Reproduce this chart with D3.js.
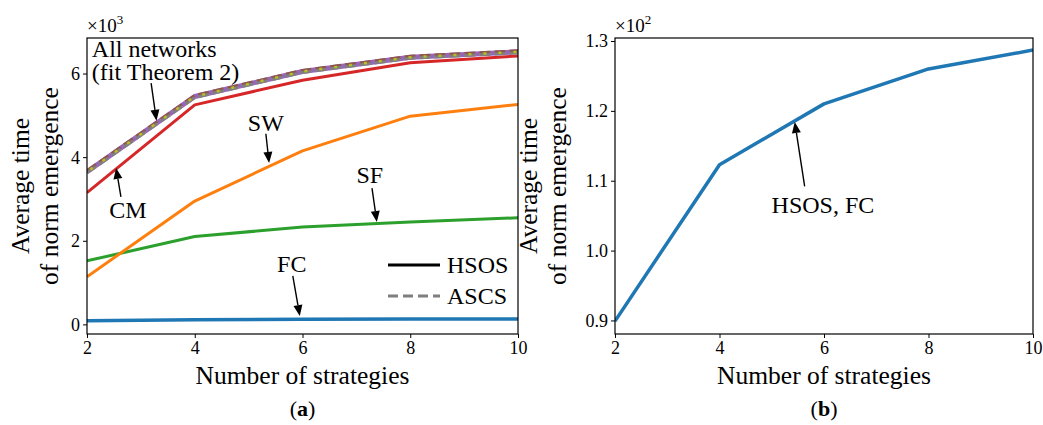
<!DOCTYPE html>
<html>
<head>
<meta charset="utf-8">
<script src="https://cdn.jsdelivr.net/npm/d3@7"></script>
<style>
  body { margin: 0; background: #fff; }
  svg text { font-family: "Liberation Serif", "Times New Roman", serif; fill: #000; }
</style>
</head>
<body>
<div id="main"></div>
<script>
// strategies on the x axis
const strategies = [2, 4, 6, 8, 10]

// panel (a), HSOS per network
const hsosCM = [3150, 5250, 5840, 6260, 6420]
const hsosSW = [1140, 2950, 4150, 4980, 5260]
const hsosSF = [1520, 2100, 2330, 2450, 2550]
const hsosFC = [89.9, 112.3, 121.0, 126.0, 128.7]
// panel (a), ASCS curves of all networks (they overlap on the fit)
const ascsFit = [3650, 5450, 6050, 6390, 6520]

// panel (b), HSOS on FC
const hsosFCb = [89.9, 112.3, 121.0, 126.0, 128.7]

const xTicks = [2, 4, 6, 8, 10]
const yTicksA = [0, 2000, 4000, 6000]
const yTicksB = [90, 100, 110, 120, 130]

// annotations: text pos, arrow tail, arrow tip (data coords)
const annotsA = [
  {lines: ["All networks", "(fit Theorem 2)"], x: 2.09, y: 6390, anchor: "start", tail: [3.19, 5770], tip: [3.29, 4870]},
  {lines: ["SW"], x: 5.32, y: 4630, anchor: "middle", tail: [5.32, 4560], tip: [5.38, 3860]},
  {lines: ["CM"], x: 2.76, y: 2540, anchor: "middle", tail: [2.63, 3050], tip: [2.54, 3740]},
  {lines: ["SF"], x: 7.25, y: 3380, anchor: "middle", tail: [7.29, 3260], tip: [7.38, 2450]},
  {lines: ["FC"], x: 5.80, y: 1250, anchor: "middle", tail: [5.82, 1160], tip: [5.95, 200]}
]
const annotsB = [
  {lines: ["HSOS, FC"], x: 5.98, y: 105.4, anchor: "middle", tail: [5.63, 109.2], tip: [5.44, 118.4]}
]

const width = 1043, height = 425

let svg = d3.select("#main").append("svg")
            .attr("width", width)
            .attr("height", height)

function arrow(g, x1, y1, x2, y2) {
  let dx = x2 - x1, dy = y2 - y1
  let len = Math.sqrt(dx*dx + dy*dy)
  let ux = dx/len, uy = dy/len
  let hl = 11, hw = 4.5
  let bx = x2 - ux*hl, by = y2 - uy*hl
  g.append("line")
   .attr("x1", x1).attr("y1", y1).attr("x2", bx).attr("y2", by)
   .attr("stroke", "#000").attr("stroke-width", 1.4)
  g.append("path")
   .attr("d", `M${x2},${y2}L${bx - uy*hw},${by + ux*hw}L${bx + uy*hw},${by - ux*hw}Z`)
   .attr("fill", "#000")
}

function panel(opts) {
  let g = svg.append("g")
  let x = d3.scaleLinear().domain([2, 10]).range([opts.left, opts.right])
  let y = d3.scaleLinear().domain(opts.yDomain).range([334, 38])

  let xAxis = d3.axisBottom(x).tickValues(xTicks).tickSize(4).tickPadding(3)
  let yAxis = d3.axisLeft(y).tickValues(opts.yTicks).tickSize(4).tickPadding(3).tickFormat(opts.fmt)

  g.append("g").attr("transform", "translate(0,334)").call(xAxis)
   .call(a => a.select(".domain").remove())
   .selectAll("text").style("font-size", "18px").attr("dy", "0.72em")
  g.append("g").attr("transform", `translate(${opts.left},0)`).call(yAxis)
   .call(a => a.select(".domain").remove())
   .selectAll("text").style("font-size", "18px").attr("dy", "0.33em")
  g.selectAll(".tick line").attr("stroke", "#000").attr("stroke-width", 1)

  // clip area
  let clipId = "clip" + opts.left
  svg.append("clipPath").attr("id", clipId).append("rect")
     .attr("x", opts.left).attr("y", 38).attr("width", opts.right - opts.left).attr("height", 296)
  let plot = g.append("g").attr("clip-path", `url(#${clipId})`)

  let line = d3.line().x((d, i) => x(strategies[i])).y(d => y(d))
  opts.series.forEach(s => {
    plot.append("path")
        .attr("d", line(s.values))
        .attr("fill", "none")
        .attr("stroke", s.color)
        .attr("stroke-width", s.w)
        .attr("stroke-dasharray", s.dash || null)
        .attr("stroke-dashoffset", s.off || 0)
        .attr("transform", s.dy ? `translate(0,${s.dy})` : null)
        .attr("stroke-linejoin", "round")
  })

  g.append("rect")
   .attr("x", opts.left).attr("y", 38)
   .attr("width", opts.right - opts.left).attr("height", 296)
   .attr("fill", "none").attr("stroke", "#000").attr("stroke-width", 1.2)

  // offset text
  let m = g.append("text").attr("x", opts.left).attr("y", 32).style("font-size", "19px")
  m.append("tspan").text("×10")
  m.append("tspan").attr("dy", -8).style("font-size", "13px").text(opts.exp)

  // axis labels
  g.append("text").attr("x", (opts.left + opts.right)/2).attr("y", 384)
   .attr("text-anchor", "middle").style("font-size", "25.5px").text("Number of strategies")
  let cy = (38 + 334)/2
  g.append("text").attr("transform", `translate(${opts.ylx},${cy}) rotate(-90)`)
   .attr("text-anchor", "middle").style("font-size", "25.5px").text("Average time")
  g.append("text").attr("transform", `translate(${opts.ylx + 29},${cy}) rotate(-90)`)
   .attr("text-anchor", "middle").style("font-size", "25.5px").text("of norm emergence")

  // caption
  let c = g.append("text").attr("x", (opts.left + opts.right)/2).attr("y", 416)
           .attr("text-anchor", "middle").style("font-size", "22px")
  c.append("tspan").text("(")
  c.append("tspan").style("font-weight", "bold").text(opts.cap)
  c.append("tspan").text(")")

  // annotations
  opts.annots.forEach(a => {
    let t = g.append("text").attr("x", x(a.x)).attr("y", y(a.y))
             .attr("text-anchor", a.anchor).style("font-size", "24px")
    a.lines.forEach((l, i) => {
      t.append("tspan").attr("x", x(a.x)).attr("dy", i ? 23 : 0).text(l)
    })
    arrow(g, x(a.tail[0]), y(a.tail[1]), x(a.tip[0]), y(a.tip[1]))
  })

  return {g, x, y}
}

let pa = panel({
  left: 87, right: 518,
  yDomain: [-230, 6850], yTicks: yTicksA, fmt: d => d/1000,
  exp: "3", ylx: 29, cap: "a",
  series: [
    {values: hsosFC, color: "#1f77b4", w: 3.5},
    {values: hsosSF, color: "#2ca02c", w: 3},
    {values: hsosSW, color: "#ff7f0e", w: 3},
    {values: hsosCM, color: "#d62728", w: 3},
    {values: ascsFit, color: "#9467bd", w: 5},
    {values: ascsFit, color: "#e377c2", w: 4, dash: "11,4"},
    {values: ascsFit, color: "#8c564b", w: 3, dash: "11,4", dy: -1},
    {values: ascsFit, color: "#7f7f7f", w: 3, dash: "11,4", dy: 1},
    {values: ascsFit, color: "#bcbd22", w: 2.5, dash: "3,12", off: -4}
  ],
  annots: annotsA
})

// legend
let legend = pa.g.append("g")
let legItems = [{label: "HSOS", color: "#000", dash: null}, {label: "ASCS", color: "#7f7f7f", dash: "10,5"}]
legItems.forEach((d, i) => {
  let ly = 265 + i*31
  legend.append("line").attr("x1", 388).attr("x2", 440).attr("y1", ly).attr("y2", ly)
        .attr("stroke", d.color).attr("stroke-width", 3).attr("stroke-dasharray", d.dash)
  legend.append("text").attr("x", 447).attr("y", ly + 8).style("font-size", "24px").text(d.label)
})

panel({
  left: 615, right: 1033,
  yDomain: [88.06, 130.43], yTicks: yTicksB, fmt: d => (d/100).toFixed(1),
  exp: "2", ylx: 537, cap: "b",
  series: [
    {values: hsosFCb, color: "#1f77b4", w: 3.5}
  ],
  annots: annotsB
})
</script>
</body>
</html>
